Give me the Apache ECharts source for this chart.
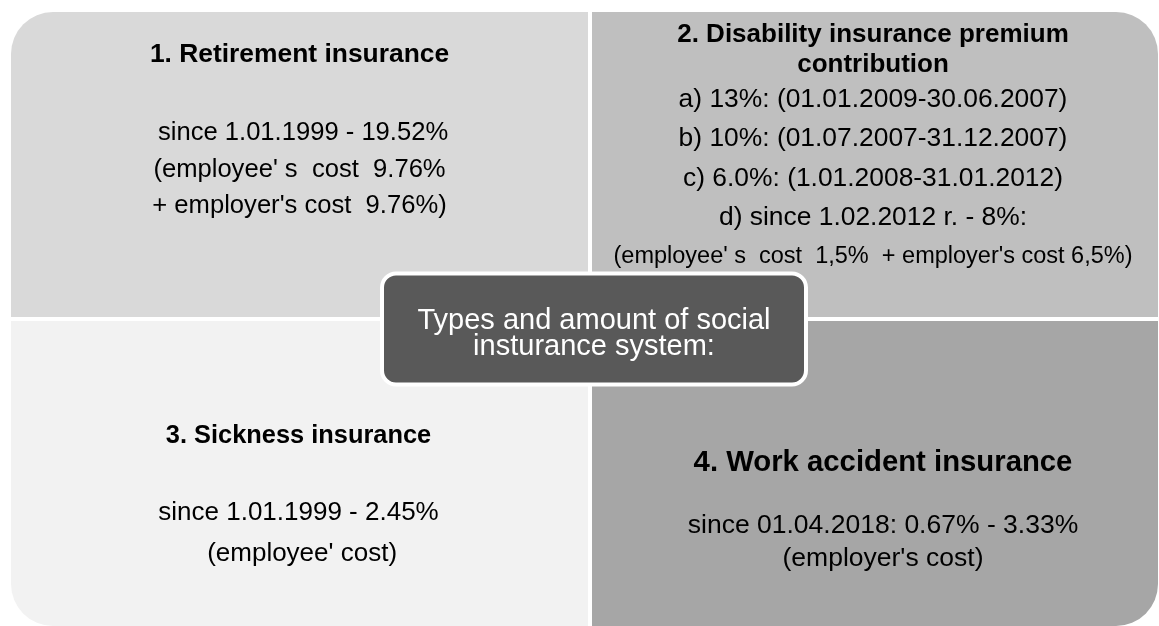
<!DOCTYPE html>
<html>
<head>
<meta charset="utf-8">
<script src="https://cdn.jsdelivr.net/npm/echarts@6/dist/echarts.min.js"></script>
<style>
  html, body { margin: 0; padding: 0; background: #fff; }
  #chart { width: 1159px; height: 626px; }
</style>
</head>
<body>
<div id="chart"></div>
<script>
// quadrant cells (column, row) and their texts
var cells = [[0, 0], [1, 0], [0, 1], [1, 1]];
var titles = [
    ['1. Retirement insurance'],
    ['2. Disability insurance premium', 'contribution'],
    ['3. Sickness insurance'],
    ['4. Work accident insurance']
];
var details = [
    [' since 1.01.1999 - 19.52%', "(employee' s  cost  9.76%", "+ employer's cost  9.76%)"],
    ['a) 13%: (01.01.2009-30.06.2007)', 'b) 10%: (01.07.2007-31.12.2007)', 'c) 6.0%: (1.01.2008-31.01.2012)',
     'd) since 1.02.2012 r. - 8%:', "(employee' s  cost  1,5%  + employer's cost 6,5%)"],
    ['since 1.01.1999 - 2.45%', " (employee' cost)"],
    ['since 01.04.2018: 0.67% - 3.33%', "(employer's cost)"]
];
var centerCell = [[1, 1]];
var centerText = ['Types and amount of social', 'insturance system:'];

var FONT = '"Liberation Sans", Arial, sans-serif';
var SPLIT_SHIFT = 5.5; // the vertical divider sits a bit right of the middle

// look of each quadrant (colour, rounded corner, text placement)
var looks = [
    {fill: '#d9d9d9', r: [42, 0, 0, 0], dx: 0, tTop: 43, tSize: 26.4, tGap: 30, bTop: 121, bGap: 36.5, bSize: [25.6, 25.6, 25.6]},
    {fill: '#bfbfbf', r: [0, 42, 0, 0], dx: -2, tTop: 23, tSize: 26, tGap: 30, bTop: 88, bGap: 39.2, bSize: [26.4, 26.4, 26.4, 26.4, 23.5]},
    {fill: '#f2f2f2', r: [0, 0, 0, 42], dx: -1, tTop: 116.5, tSize: 25.4, tGap: 30, bTop: 193.5, bGap: 41, bSize: [26, 26]},
    {fill: '#a6a6a6', r: [0, 0, 42, 0], dx: 8, tTop: 143.5, tSize: 29.3, tGap: 30, bTop: 206.5, bGap: 33, bSize: [26.5, 26.5]}
];

var myChart = echarts.init(document.getElementById('chart'));

function renderQuadrant(params, api) {
    var i = params.dataIndex;
    var col = api.value(0), row = api.value(1);
    var p0 = api.coord([col, row]);
    var p1 = api.coord([col + 1, row + 1]);
    var half = 2;
    var x0 = p0[0] + (col === 1 ? half + SPLIT_SHIFT : 0);
    var x1 = p1[0] - (col === 0 ? half - SPLIT_SHIFT : 0);
    var y0 = p0[1] + (row === 1 ? half : 0);
    var y1 = p1[1] - (row === 0 ? half : 0);
    var lk = looks[i];
    var cx = (x0 + x1) / 2 + lk.dx;
    var children = [{
        type: 'rect',
        shape: {x: x0, y: y0, width: x1 - x0, height: y1 - y0, r: lk.r},
        style: {fill: lk.fill}
    }];
    titles[i].forEach(function (t, k) {
        children.push({
            type: 'text',
            style: {
                text: t, x: cx, y: p0[1] + lk.tTop + k * lk.tGap,
                align: 'center', verticalAlign: 'middle',
                fill: '#000', fontFamily: FONT, fontWeight: 'bold', fontSize: lk.tSize
            }
        });
    });
    details[i].forEach(function (t, k) {
        children.push({
            type: 'text',
            style: {
                text: t, x: cx, y: p0[1] + lk.bTop + k * lk.bGap,
                align: 'center', verticalAlign: 'middle',
                fill: '#000', fontFamily: FONT, fontSize: lk.bSize[k]
            }
        });
    });
    return {type: 'group', children: children};
}

function renderCenter(params, api) {
    var c = api.coord([api.value(0), api.value(1)]);
    var w = 424, h = 111;
    var cx = c[0] + 9.5, cy = c[1] + 10;
    var children = [{
        type: 'rect',
        shape: {x: cx - w / 2, y: cy - h / 2, width: w, height: h, r: 14},
        style: {fill: '#595959', stroke: '#fff', lineWidth: 4}
    }];
    centerText.forEach(function (t, k) {
        children.push({
            type: 'text',
            style: {
                text: t, x: cx, y: cy - 8.5 + k * 26,
                align: 'center', verticalAlign: 'middle',
                fill: '#fff', fontFamily: FONT, fontSize: 29
            }
        });
    });
    return {type: 'group', children: children};
}

var option = {
    backgroundColor: '#fff',
    animation: false,
    grid: {left: 11, right: 1, top: 12, bottom: -3},
    xAxis: {type: 'value', min: 0, max: 2, show: false},
    yAxis: {type: 'value', min: 0, max: 2, inverse: true, show: false},
    series: [
        {type: 'custom', renderItem: renderQuadrant, data: cells, clip: false, z: 1},
        {type: 'custom', renderItem: renderCenter, data: centerCell, clip: false, z: 5}
    ]
};
myChart.setOption(option);
</script>
</body>
</html>
